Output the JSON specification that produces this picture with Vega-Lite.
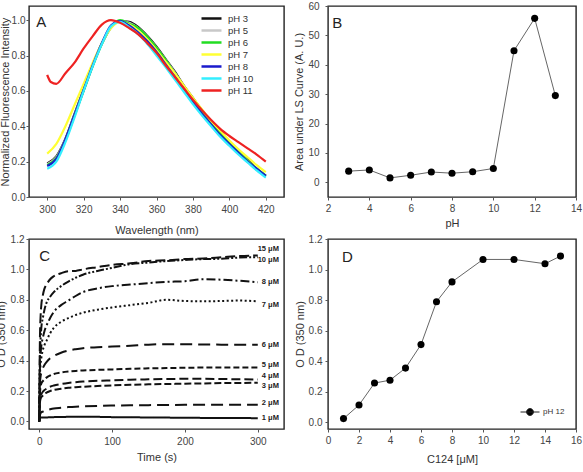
{
  "$schema": "https://vega.github.io/schema/vega-lite/v6.json",
  "background": "white",
  "padding": {"left": -6, "top": 0, "right": 0, "bottom": 0},
  "columns": 2,
  "spacing": {"row": 42, "column": 44},
  "bounds": "flush",
  "align": "each",
  "resolve": {"scale": {"color": "independent"}, "legend": {"color": "independent"}},
  "config": {
    "view": {"stroke": "#222", "strokeWidth": 1.4},
    "axis": {
      "grid": false, "domain": false, "tickSize": 3, "tickColor": "#555",
      "labelOverlap": false, "labelFlush": false, "labelBound": false,
      "labelFont": "Liberation Sans", "labelFontSize": 10, "labelColor": "#444",
      "titleFont": "Liberation Sans", "titleFontSize": 11, "titleFontWeight": "normal", "titleColor": "#333"
    },
    "axisY": {"titleBaseline": "middle"},
    "text": {"font": "Liberation Sans"}
  },
  "datasets": {
    "spectra": [
      {"ph":"pH 3","wl":300,"i":0.19},{"ph":"pH 3","wl":305,"i":0.23},{"ph":"pH 3","wl":310,"i":0.33},{"ph":"pH 3","wl":315,"i":0.47},{"ph":"pH 3","wl":320,"i":0.61},{"ph":"pH 3","wl":325,"i":0.75},{"ph":"pH 3","wl":330,"i":0.87},{"ph":"pH 3","wl":335,"i":0.96},{"ph":"pH 3","wl":340,"i":0.995},{"ph":"pH 3","wl":345,"i":0.99},{"ph":"pH 3","wl":350,"i":0.96},{"ph":"pH 3","wl":355,"i":0.91},{"ph":"pH 3","wl":360,"i":0.85},{"ph":"pH 3","wl":365,"i":0.78},{"ph":"pH 3","wl":370,"i":0.71},{"ph":"pH 3","wl":375,"i":0.63},{"ph":"pH 3","wl":380,"i":0.56},{"ph":"pH 3","wl":385,"i":0.49},{"ph":"pH 3","wl":390,"i":0.42},{"ph":"pH 3","wl":395,"i":0.36},{"ph":"pH 3","wl":400,"i":0.31},{"ph":"pH 3","wl":405,"i":0.26},{"ph":"pH 3","wl":410,"i":0.21},{"ph":"pH 3","wl":415,"i":0.16},{"ph":"pH 3","wl":420,"i":0.12},
      {"ph":"pH 5","wl":300,"i":0.185},{"ph":"pH 5","wl":305,"i":0.225},{"ph":"pH 5","wl":310,"i":0.325},{"ph":"pH 5","wl":315,"i":0.465},{"ph":"pH 5","wl":320,"i":0.605},{"ph":"pH 5","wl":325,"i":0.745},{"ph":"pH 5","wl":330,"i":0.865},{"ph":"pH 5","wl":335,"i":0.955},{"ph":"pH 5","wl":340,"i":0.995},{"ph":"pH 5","wl":345,"i":0.985},{"ph":"pH 5","wl":350,"i":0.955},{"ph":"pH 5","wl":355,"i":0.905},{"ph":"pH 5","wl":360,"i":0.845},{"ph":"pH 5","wl":365,"i":0.775},{"ph":"pH 5","wl":370,"i":0.705},{"ph":"pH 5","wl":375,"i":0.625},{"ph":"pH 5","wl":380,"i":0.555},{"ph":"pH 5","wl":385,"i":0.485},{"ph":"pH 5","wl":390,"i":0.415},{"ph":"pH 5","wl":395,"i":0.355},{"ph":"pH 5","wl":400,"i":0.305},{"ph":"pH 5","wl":405,"i":0.255},{"ph":"pH 5","wl":410,"i":0.205},{"ph":"pH 5","wl":415,"i":0.16},{"ph":"pH 5","wl":420,"i":0.12},
      {"ph":"pH 6","wl":300,"i":0.18},{"ph":"pH 6","wl":305,"i":0.22},{"ph":"pH 6","wl":310,"i":0.32},{"ph":"pH 6","wl":315,"i":0.46},{"ph":"pH 6","wl":320,"i":0.6},{"ph":"pH 6","wl":325,"i":0.74},{"ph":"pH 6","wl":330,"i":0.865},{"ph":"pH 6","wl":335,"i":0.96},{"ph":"pH 6","wl":340,"i":1.0},{"ph":"pH 6","wl":345,"i":0.98},{"ph":"pH 6","wl":350,"i":0.955},{"ph":"pH 6","wl":355,"i":0.905},{"ph":"pH 6","wl":360,"i":0.845},{"ph":"pH 6","wl":365,"i":0.775},{"ph":"pH 6","wl":370,"i":0.7},{"ph":"pH 6","wl":375,"i":0.625},{"ph":"pH 6","wl":380,"i":0.555},{"ph":"pH 6","wl":385,"i":0.485},{"ph":"pH 6","wl":390,"i":0.42},{"ph":"pH 6","wl":395,"i":0.36},{"ph":"pH 6","wl":400,"i":0.305},{"ph":"pH 6","wl":405,"i":0.255},{"ph":"pH 6","wl":410,"i":0.205},{"ph":"pH 6","wl":415,"i":0.16},{"ph":"pH 6","wl":420,"i":0.12},
      {"ph":"pH 7","wl":300,"i":0.245},{"ph":"pH 7","wl":305,"i":0.3},{"ph":"pH 7","wl":310,"i":0.4},{"ph":"pH 7","wl":315,"i":0.52},{"ph":"pH 7","wl":320,"i":0.64},{"ph":"pH 7","wl":325,"i":0.76},{"ph":"pH 7","wl":330,"i":0.87},{"ph":"pH 7","wl":335,"i":0.955},{"ph":"pH 7","wl":340,"i":0.99},{"ph":"pH 7","wl":345,"i":0.975},{"ph":"pH 7","wl":350,"i":0.94},{"ph":"pH 7","wl":355,"i":0.89},{"ph":"pH 7","wl":360,"i":0.83},{"ph":"pH 7","wl":365,"i":0.765},{"ph":"pH 7","wl":370,"i":0.7},{"ph":"pH 7","wl":375,"i":0.63},{"ph":"pH 7","wl":380,"i":0.56},{"ph":"pH 7","wl":385,"i":0.495},{"ph":"pH 7","wl":390,"i":0.43},{"ph":"pH 7","wl":395,"i":0.375},{"ph":"pH 7","wl":400,"i":0.32},{"ph":"pH 7","wl":405,"i":0.27},{"ph":"pH 7","wl":410,"i":0.225},{"ph":"pH 7","wl":415,"i":0.18},{"ph":"pH 7","wl":420,"i":0.14},
      {"ph":"pH 8","wl":300,"i":0.175},{"ph":"pH 8","wl":305,"i":0.215},{"ph":"pH 8","wl":310,"i":0.325},{"ph":"pH 8","wl":315,"i":0.465},{"ph":"pH 8","wl":320,"i":0.605},{"ph":"pH 8","wl":325,"i":0.745},{"ph":"pH 8","wl":330,"i":0.87},{"ph":"pH 8","wl":335,"i":0.97},{"ph":"pH 8","wl":340,"i":0.995},{"ph":"pH 8","wl":345,"i":0.97},{"ph":"pH 8","wl":350,"i":0.93},{"ph":"pH 8","wl":355,"i":0.88},{"ph":"pH 8","wl":360,"i":0.82},{"ph":"pH 8","wl":365,"i":0.75},{"ph":"pH 8","wl":370,"i":0.68},{"ph":"pH 8","wl":375,"i":0.61},{"ph":"pH 8","wl":380,"i":0.54},{"ph":"pH 8","wl":385,"i":0.47},{"ph":"pH 8","wl":390,"i":0.41},{"ph":"pH 8","wl":395,"i":0.35},{"ph":"pH 8","wl":400,"i":0.3},{"ph":"pH 8","wl":405,"i":0.25},{"ph":"pH 8","wl":410,"i":0.2},{"ph":"pH 8","wl":415,"i":0.16},{"ph":"pH 8","wl":420,"i":0.12},
      {"ph":"pH 10","wl":300,"i":0.16},{"ph":"pH 10","wl":305,"i":0.2},{"ph":"pH 10","wl":310,"i":0.31},{"ph":"pH 10","wl":315,"i":0.45},{"ph":"pH 10","wl":320,"i":0.6},{"ph":"pH 10","wl":325,"i":0.74},{"ph":"pH 10","wl":330,"i":0.865},{"ph":"pH 10","wl":335,"i":0.965},{"ph":"pH 10","wl":340,"i":0.99},{"ph":"pH 10","wl":345,"i":0.96},{"ph":"pH 10","wl":350,"i":0.92},{"ph":"pH 10","wl":355,"i":0.865},{"ph":"pH 10","wl":360,"i":0.8},{"ph":"pH 10","wl":365,"i":0.735},{"ph":"pH 10","wl":370,"i":0.665},{"ph":"pH 10","wl":375,"i":0.595},{"ph":"pH 10","wl":380,"i":0.525},{"ph":"pH 10","wl":385,"i":0.46},{"ph":"pH 10","wl":390,"i":0.4},{"ph":"pH 10","wl":395,"i":0.34},{"ph":"pH 10","wl":400,"i":0.29},{"ph":"pH 10","wl":405,"i":0.24},{"ph":"pH 10","wl":410,"i":0.195},{"ph":"pH 10","wl":415,"i":0.15},{"ph":"pH 10","wl":420,"i":0.11},
      {"ph":"pH 11","wl":300,"i":0.69},{"ph":"pH 11","wl":302,"i":0.65},{"ph":"pH 11","wl":305,"i":0.64},{"ph":"pH 11","wl":310,"i":0.7},{"ph":"pH 11","wl":315,"i":0.76},{"ph":"pH 11","wl":320,"i":0.84},{"ph":"pH 11","wl":325,"i":0.91},{"ph":"pH 11","wl":330,"i":0.975},{"ph":"pH 11","wl":335,"i":1.0},{"ph":"pH 11","wl":340,"i":0.985},{"ph":"pH 11","wl":345,"i":0.955},{"ph":"pH 11","wl":350,"i":0.92},{"ph":"pH 11","wl":355,"i":0.87},{"ph":"pH 11","wl":360,"i":0.815},{"ph":"pH 11","wl":365,"i":0.745},{"ph":"pH 11","wl":370,"i":0.68},{"ph":"pH 11","wl":375,"i":0.615},{"ph":"pH 11","wl":380,"i":0.55},{"ph":"pH 11","wl":385,"i":0.49},{"ph":"pH 11","wl":390,"i":0.435},{"ph":"pH 11","wl":395,"i":0.385},{"ph":"pH 11","wl":400,"i":0.345},{"ph":"pH 11","wl":405,"i":0.31},{"ph":"pH 11","wl":410,"i":0.275},{"ph":"pH 11","wl":415,"i":0.24},{"ph":"pH 11","wl":420,"i":0.2}
    ],
    "lsArea": [
      {"ph":3,"area":3.8},{"ph":4,"area":4.2},{"ph":5,"area":1.5},{"ph":6,"area":2.4},{"ph":7,"area":3.5},{"ph":8,"area":3.1},{"ph":9,"area":3.6},{"ph":10,"area":4.7},{"ph":11,"area":44.8},{"ph":12,"area":55.8},{"ph":13,"area":29.5}
    ],
    "kinetics": [
      {"c":"1 μM","t":0,"od":0},{"c":"1 μM","t":1,"od":0.02},{"c":"1 μM","t":2,"od":0.025},{"c":"1 μM","t":3,"od":0.025},{"c":"1 μM","t":5,"od":0.025},{"c":"1 μM","t":7,"od":0.025},{"c":"1 μM","t":10,"od":0.026},{"c":"1 μM","t":15,"od":0.027},{"c":"1 μM","t":20,"od":0.028},{"c":"1 μM","t":30,"od":0.029},{"c":"1 μM","t":40,"od":0.03},{"c":"1 μM","t":50,"od":0.03},{"c":"1 μM","t":60,"od":0.031},{"c":"1 μM","t":80,"od":0.03},{"c":"1 μM","t":100,"od":0.028},{"c":"1 μM","t":125,"od":0.027},{"c":"1 μM","t":150,"od":0.026},{"c":"1 μM","t":175,"od":0.025},{"c":"1 μM","t":200,"od":0.024},{"c":"1 μM","t":225,"od":0.023},{"c":"1 μM","t":250,"od":0.022},{"c":"1 μM","t":275,"od":0.022},{"c":"1 μM","t":300,"od":0.021},
      {"c":"2 μM","t":0,"od":0},{"c":"2 μM","t":1,"od":0.04},{"c":"2 μM","t":2,"od":0.055},{"c":"2 μM","t":3,"od":0.06},{"c":"2 μM","t":5,"od":0.065},{"c":"2 μM","t":7,"od":0.07},{"c":"2 μM","t":10,"od":0.074},{"c":"2 μM","t":15,"od":0.08},{"c":"2 μM","t":20,"od":0.085},{"c":"2 μM","t":30,"od":0.09},{"c":"2 μM","t":40,"od":0.094},{"c":"2 μM","t":50,"od":0.097},{"c":"2 μM","t":60,"od":0.099},{"c":"2 μM","t":80,"od":0.102},{"c":"2 μM","t":100,"od":0.104},{"c":"2 μM","t":125,"od":0.106},{"c":"2 μM","t":150,"od":0.107},{"c":"2 μM","t":175,"od":0.108},{"c":"2 μM","t":200,"od":0.109},{"c":"2 μM","t":225,"od":0.109},{"c":"2 μM","t":250,"od":0.11},{"c":"2 μM","t":275,"od":0.11},{"c":"2 μM","t":300,"od":0.11},
      {"c":"3 μM","t":0,"od":0},{"c":"3 μM","t":1,"od":0.12},{"c":"3 μM","t":2,"od":0.15},{"c":"3 μM","t":3,"od":0.16},{"c":"3 μM","t":5,"od":0.17},{"c":"3 μM","t":7,"od":0.18},{"c":"3 μM","t":10,"od":0.19},{"c":"3 μM","t":15,"od":0.2},{"c":"3 μM","t":20,"od":0.207},{"c":"3 μM","t":30,"od":0.215},{"c":"3 μM","t":40,"od":0.221},{"c":"3 μM","t":50,"od":0.225},{"c":"3 μM","t":60,"od":0.228},{"c":"3 μM","t":80,"od":0.233},{"c":"3 μM","t":100,"od":0.237},{"c":"3 μM","t":125,"od":0.241},{"c":"3 μM","t":150,"od":0.244},{"c":"3 μM","t":175,"od":0.246},{"c":"3 μM","t":200,"od":0.248},{"c":"3 μM","t":225,"od":0.25},{"c":"3 μM","t":250,"od":0.252},{"c":"3 μM","t":275,"od":0.253},{"c":"3 μM","t":300,"od":0.255},
      {"c":"4 μM","t":0,"od":0},{"c":"4 μM","t":1,"od":0.14},{"c":"4 μM","t":2,"od":0.17},{"c":"4 μM","t":3,"od":0.18},{"c":"4 μM","t":5,"od":0.195},{"c":"4 μM","t":7,"od":0.205},{"c":"4 μM","t":10,"od":0.215},{"c":"4 μM","t":15,"od":0.228},{"c":"4 μM","t":20,"od":0.236},{"c":"4 μM","t":30,"od":0.246},{"c":"4 μM","t":40,"od":0.253},{"c":"4 μM","t":50,"od":0.258},{"c":"4 μM","t":60,"od":0.262},{"c":"4 μM","t":80,"od":0.267},{"c":"4 μM","t":100,"od":0.27},{"c":"4 μM","t":125,"od":0.274},{"c":"4 μM","t":150,"od":0.277},{"c":"4 μM","t":175,"od":0.279},{"c":"4 μM","t":200,"od":0.28},{"c":"4 μM","t":225,"od":0.28},{"c":"4 μM","t":250,"od":0.279},{"c":"4 μM","t":275,"od":0.277},{"c":"4 μM","t":300,"od":0.276},
      {"c":"5 μM","t":0,"od":0},{"c":"5 μM","t":1,"od":0.18},{"c":"5 μM","t":2,"od":0.23},{"c":"5 μM","t":3,"od":0.25},{"c":"5 μM","t":5,"od":0.265},{"c":"5 μM","t":7,"od":0.275},{"c":"5 μM","t":10,"od":0.288},{"c":"5 μM","t":15,"od":0.302},{"c":"5 μM","t":20,"od":0.312},{"c":"5 μM","t":30,"od":0.322},{"c":"5 μM","t":40,"od":0.328},{"c":"5 μM","t":50,"od":0.332},{"c":"5 μM","t":60,"od":0.335},{"c":"5 μM","t":80,"od":0.339},{"c":"5 μM","t":100,"od":0.342},{"c":"5 μM","t":125,"od":0.346},{"c":"5 μM","t":150,"od":0.349},{"c":"5 μM","t":175,"od":0.351},{"c":"5 μM","t":200,"od":0.353},{"c":"5 μM","t":225,"od":0.354},{"c":"5 μM","t":250,"od":0.354},{"c":"5 μM","t":275,"od":0.355},{"c":"5 μM","t":300,"od":0.355},
      {"c":"6 μM","t":0,"od":0},{"c":"6 μM","t":1,"od":0.25},{"c":"6 μM","t":2,"od":0.3},{"c":"6 μM","t":3,"od":0.32},{"c":"6 μM","t":5,"od":0.35},{"c":"6 μM","t":7,"od":0.37},{"c":"6 μM","t":10,"od":0.39},{"c":"6 μM","t":15,"od":0.415},{"c":"6 μM","t":20,"od":0.43},{"c":"6 μM","t":30,"od":0.452},{"c":"6 μM","t":40,"od":0.466},{"c":"6 μM","t":50,"od":0.475},{"c":"6 μM","t":60,"od":0.482},{"c":"6 μM","t":80,"od":0.488},{"c":"6 μM","t":100,"od":0.492},{"c":"6 μM","t":125,"od":0.498},{"c":"6 μM","t":150,"od":0.505},{"c":"6 μM","t":175,"od":0.508},{"c":"6 μM","t":200,"od":0.508},{"c":"6 μM","t":225,"od":0.506},{"c":"6 μM","t":250,"od":0.505},{"c":"6 μM","t":275,"od":0.504},{"c":"6 μM","t":300,"od":0.505},
      {"c":"7 μM","t":0,"od":0},{"c":"7 μM","t":1,"od":0.3},{"c":"7 μM","t":2,"od":0.38},{"c":"7 μM","t":3,"od":0.42},{"c":"7 μM","t":5,"od":0.47},{"c":"7 μM","t":7,"od":0.5},{"c":"7 μM","t":10,"od":0.53},{"c":"7 μM","t":15,"od":0.58},{"c":"7 μM","t":20,"od":0.615},{"c":"7 μM","t":30,"od":0.655},{"c":"7 μM","t":40,"od":0.68},{"c":"7 μM","t":50,"od":0.7},{"c":"7 μM","t":60,"od":0.715},{"c":"7 μM","t":80,"od":0.735},{"c":"7 μM","t":100,"od":0.75},{"c":"7 μM","t":125,"od":0.765},{"c":"7 μM","t":150,"od":0.78},{"c":"7 μM","t":175,"od":0.8},{"c":"7 μM","t":200,"od":0.792},{"c":"7 μM","t":225,"od":0.79},{"c":"7 μM","t":250,"od":0.792},{"c":"7 μM","t":275,"od":0.795},{"c":"7 μM","t":300,"od":0.79},
      {"c":"8 μM","t":0,"od":0},{"c":"8 μM","t":1,"od":0.35},{"c":"8 μM","t":2,"od":0.45},{"c":"8 μM","t":3,"od":0.5},{"c":"8 μM","t":5,"od":0.55},{"c":"8 μM","t":7,"od":0.59},{"c":"8 μM","t":10,"od":0.63},{"c":"8 μM","t":15,"od":0.68},{"c":"8 μM","t":20,"od":0.72},{"c":"8 μM","t":30,"od":0.765},{"c":"8 μM","t":40,"od":0.795},{"c":"8 μM","t":50,"od":0.825},{"c":"8 μM","t":60,"od":0.85},{"c":"8 μM","t":80,"od":0.875},{"c":"8 μM","t":100,"od":0.89},{"c":"8 μM","t":125,"od":0.9},{"c":"8 μM","t":150,"od":0.91},{"c":"8 μM","t":175,"od":0.918},{"c":"8 μM","t":200,"od":0.922},{"c":"8 μM","t":225,"od":0.935},{"c":"8 μM","t":250,"od":0.932},{"c":"8 μM","t":275,"od":0.925},{"c":"8 μM","t":300,"od":0.915},
      {"c":"10 μM","t":0,"od":0},{"c":"10 μM","t":1,"od":0.42},{"c":"10 μM","t":2,"od":0.55},{"c":"10 μM","t":3,"od":0.62},{"c":"10 μM","t":5,"od":0.68},{"c":"10 μM","t":7,"od":0.73},{"c":"10 μM","t":10,"od":0.78},{"c":"10 μM","t":15,"od":0.82},{"c":"10 μM","t":20,"od":0.85},{"c":"10 μM","t":30,"od":0.89},{"c":"10 μM","t":40,"od":0.92},{"c":"10 μM","t":50,"od":0.945},{"c":"10 μM","t":60,"od":0.965},{"c":"10 μM","t":80,"od":0.99},{"c":"10 μM","t":100,"od":1.01},{"c":"10 μM","t":125,"od":1.035},{"c":"10 μM","t":150,"od":1.045},{"c":"10 μM","t":175,"od":1.055},{"c":"10 μM","t":200,"od":1.062},{"c":"10 μM","t":225,"od":1.068},{"c":"10 μM","t":250,"od":1.07},{"c":"10 μM","t":275,"od":1.078},{"c":"10 μM","t":300,"od":1.08},
      {"c":"15 μM","t":0,"od":0},{"c":"15 μM","t":1,"od":0.55},{"c":"15 μM","t":2,"od":0.7},{"c":"15 μM","t":3,"od":0.77},{"c":"15 μM","t":5,"od":0.83},{"c":"15 μM","t":7,"od":0.87},{"c":"15 μM","t":10,"od":0.9},{"c":"15 μM","t":15,"od":0.935},{"c":"15 μM","t":20,"od":0.955},{"c":"15 μM","t":30,"od":0.975},{"c":"15 μM","t":40,"od":0.988},{"c":"15 μM","t":50,"od":0.99},{"c":"15 μM","t":60,"od":1.0},{"c":"15 μM","t":80,"od":1.015},{"c":"15 μM","t":100,"od":1.03},{"c":"15 μM","t":125,"od":1.04},{"c":"15 μM","t":150,"od":1.055},{"c":"15 μM","t":175,"od":1.06},{"c":"15 μM","t":200,"od":1.068},{"c":"15 μM","t":225,"od":1.072},{"c":"15 μM","t":250,"od":1.08},{"c":"15 μM","t":275,"od":1.088},{"c":"15 μM","t":300,"od":1.092}
    ],
    "kineticLabels": [
      {"c":"15 μM","t":329,"od":1.135},{"c":"10 μM","t":329,"od":1.06},{"c":"8 μM","t":329,"od":0.916},{"c":"7 μM","t":329,"od":0.766},{"c":"6 μM","t":329,"od":0.502},{"c":"5 μM","t":329,"od":0.37},{"c":"4 μM","t":329,"od":0.3},{"c":"3 μM","t":329,"od":0.231},{"c":"2 μM","t":329,"od":0.121},{"c":"1 μM","t":329,"od":0.022}
    ],
    "plateau": [
      {"s":"pH 12","c":1,"od":0.023},{"s":"pH 12","c":2,"od":0.112},{"s":"pH 12","c":3,"od":0.256},{"s":"pH 12","c":4,"od":0.275},{"s":"pH 12","c":5,"od":0.354},{"s":"pH 12","c":6,"od":0.508},{"s":"pH 12","c":7,"od":0.789},{"s":"pH 12","c":8,"od":0.919},{"s":"pH 12","c":10,"od":1.066},{"s":"pH 12","c":12,"od":1.066},{"s":"pH 12","c":14,"od":1.038},{"s":"pH 12","c":15,"od":1.088}
    ]
  },
  "concat": [
    {
      "width": 255, "height": 191,
      "layer": [
        {
          "data": {"name": "spectra"},
          "mark": {"type": "line", "strokeWidth": 2.2, "interpolate": "monotone"},
          "encoding": {
            "x": {"field": "wl", "type": "quantitative", "scale": {"domain": [290, 430], "nice": false, "zero": false},
                  "axis": {"title": "Wavelength (nm)", "values": [300, 320, 340, 360, 380, 400, 420], "format": "d", "tickCount": 30, "labelPadding": 4, "titlePadding": 10}},
            "y": {"field": "i", "type": "quantitative", "scale": {"domain": [0, 1.08], "nice": false},
                  "axis": {"title": "Normalized Fluorescence Intensity", "values": [0, 0.2, 0.4, 0.6, 0.8, 1.0], "format": ".1f", "tickCount": 30, "labelPadding": 1, "titleX": -23.5}},
            "color": {"field": "ph", "type": "nominal",
                      "scale": {"domain": ["pH 3", "pH 5", "pH 6", "pH 7", "pH 8", "pH 10", "pH 11"],
                                "range": ["#111111", "#c8c8c8", "#22dd22", "#ffff33", "#1a1acc", "#33eeff", "#ee2222"]},
                      "legend": {"title": null, "orient": "none", "legendX": 176, "legendY": 6,
                                 "symbolType": "M-2,0L2,0", "symbolStrokeWidth": 2.5, "symbolSize": 100,
                                 "labelFont": "Liberation Sans", "labelFontSize": 9.5, "labelColor": "#333",
                                 "labelOffset": 10, "rowPadding": 0}}
          }
        },
        {
          "data": {"values": [{}]},
          "mark": {"type": "text", "align": "left", "baseline": "middle", "fontSize": 15, "color": "#222"},
          "encoding": {"x": {"datum": 294}, "y": {"datum": 0.99}, "text": {"value": "A"}}
        }
      ]
    },
    {
      "width": 248, "height": 191,
      "layer": [
        {
          "data": {"name": "lsArea"},
          "mark": {"type": "line", "color": "#666", "strokeWidth": 1},
          "encoding": {
            "x": {"field": "ph", "type": "quantitative", "scale": {"domain": [2, 14], "nice": false},
                  "axis": {"title": "pH", "values": [2, 4, 6, 8, 10, 12, 14], "format": "d", "tickCount": 30, "labelPadding": 3, "titlePadding": 4}},
            "y": {"field": "area", "type": "quantitative", "scale": {"domain": [-5, 60], "nice": false},
                  "axis": {"title": "Area under LS Curve (A. U.)", "values": [0, 10, 20, 30, 40, 50, 60], "format": "d", "tickCount": 30, "labelPadding": 6, "titleX": -29}}
          }
        },
        {
          "data": {"name": "lsArea"},
          "mark": {"type": "point", "filled": true, "color": "#000", "size": 50, "opacity": 1},
          "encoding": {"x": {"field": "ph", "type": "quantitative"}, "y": {"field": "area", "type": "quantitative"}}
        },
        {
          "data": {"values": [{}]},
          "mark": {"type": "text", "align": "left", "baseline": "middle", "fontSize": 15, "color": "#222"},
          "encoding": {"x": {"datum": 2.2}, "y": {"datum": 54.2}, "text": {"value": "B"}}
        }
      ]
    },
    {
      "width": 255, "height": 190,
      "layer": [
        {
          "data": {"name": "kinetics"},
          "mark": {"type": "line", "strokeWidth": 2, "color": "#111", "interpolate": "monotone"},
          "encoding": {
            "x": {"field": "t", "type": "quantitative", "scale": {"domain": [-14, 336], "nice": false, "zero": false},
                  "axis": {"title": "Time (s)", "values": [0, 100, 200, 300], "format": "d", "tickCount": 30, "labelPadding": 4, "titlePadding": 5}},
            "y": {"field": "od", "type": "quantitative", "scale": {"domain": [-0.05, 1.2], "nice": false},
                  "axis": {"title": "O D (350 nm)", "values": [0, 0.2, 0.4, 0.6, 0.8, 1.0, 1.2], "format": ".1f", "tickCount": 30, "labelPadding": 2, "titleX": -28}},
            "detail": {"field": "c"},
            "strokeDash": {"field": "c", "type": "nominal", "legend": null,
                           "scale": {"domain": ["1 μM", "2 μM", "3 μM", "4 μM", "5 μM", "6 μM", "7 μM", "8 μM", "10 μM", "15 μM"],
                                     "range": [[1, 0], [12, 6], [7, 3], [9, 4], [6, 3], [12, 6], [2, 2.5], [9, 3, 2, 3], [8, 2, 2, 2, 2, 2], [10, 4]]}}
          }
        },
        {
          "data": {"name": "kineticLabels"},
          "mark": {"type": "text", "align": "right", "baseline": "middle", "fontSize": 7.5, "fontWeight": "bold", "color": "#222"},
          "encoding": {
            "x": {"field": "t", "type": "quantitative"},
            "y": {"field": "od", "type": "quantitative"},
            "text": {"field": "c"}
          }
        },
        {
          "data": {"values": [{}]},
          "mark": {"type": "text", "align": "left", "baseline": "middle", "fontSize": 15, "color": "#222"},
          "encoding": {"x": {"datum": 0}, "y": {"datum": 1.088}, "text": {"value": "C"}}
        }
      ]
    },
    {
      "width": 248, "height": 190,
      "layer": [
        {
          "data": {"name": "plateau"},
          "mark": {"type": "line", "color": "#666", "strokeWidth": 1},
          "encoding": {
            "x": {"field": "c", "type": "quantitative", "scale": {"domain": [0, 16], "nice": false},
                  "axis": {"title": "C124 [μM]", "values": [0, 2, 4, 6, 8, 10, 12, 14, 16], "format": "d", "tickCount": 30, "labelPadding": 3, "titlePadding": 8}},
            "y": {"field": "od", "type": "quantitative", "scale": {"domain": [-0.045, 1.2], "nice": false},
                  "axis": {"title": "O D (350 nm)", "values": [0, 0.2, 0.4, 0.6, 0.8, 1.0, 1.2], "format": ".1f", "tickCount": 30, "labelPadding": 3, "titleX": -28}}
          }
        },
        {
          "data": {"name": "plateau"},
          "mark": {"type": "point", "filled": true, "size": 50, "opacity": 1},
          "encoding": {
            "x": {"field": "c", "type": "quantitative"},
            "y": {"field": "od", "type": "quantitative"},
            "color": {"field": "s", "type": "nominal", "scale": {"domain": ["pH 12"], "range": ["#000000"]},
                      "legend": {"title": null, "orient": "bottom-right", "offset": 11,
                                 "symbolType": "M-1,0L1,0M0.36,0A0.36,0.36,0,1,1,-0.36,0A0.36,0.36,0,1,1,0.36,0Z",
                                 "symbolSize": 361, "symbolStrokeColor": "#222", "symbolStrokeWidth": 1, "symbolFillColor": "#000",
                                 "labelFont": "Liberation Sans", "labelFontSize": 8, "labelColor": "#333", "labelOffset": 3}}
          }
        },
        {
          "data": {"values": [{}]},
          "mark": {"type": "text", "align": "left", "baseline": "middle", "fontSize": 15, "color": "#222"},
          "encoding": {"x": {"datum": 0.9}, "y": {"datum": 1.08}, "text": {"value": "D"}}
        }
      ]
    }
  ]
}
